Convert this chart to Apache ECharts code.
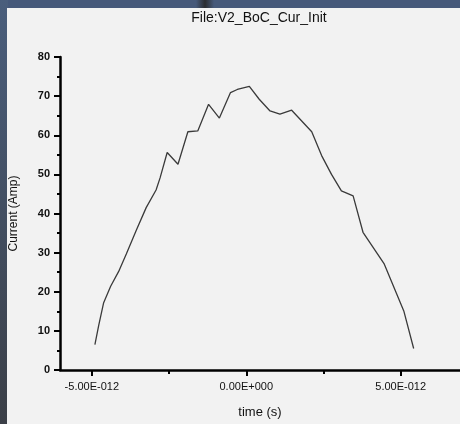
<!DOCTYPE html>
<html>
<head>
<meta charset="utf-8">
<script src="https://cdn.jsdelivr.net/npm/echarts@6/dist/echarts.min.js"></script>
<style>
  html, body { margin: 0; padding: 0; background: #46597a; }
  #chart { width: 460px; height: 424px; }
</style>
</head>
<body>
<div id="chart"></div>
<script>
// Current pulse, time in seconds
var timeSec = [
  -4.90e-12, -4.78e-12, -4.62e-12, -4.39e-12, -4.13e-12, -3.88e-12, -3.56e-12,
  -3.24e-12, -2.92e-12, -2.79e-12, -2.56e-12, -2.21e-12, -1.89e-12, -1.57e-12,
  -1.22e-12, -0.87e-12, -0.51e-12, -0.29e-12, 0.10e-12, 0.42e-12, 0.77e-12,
  1.09e-12, 1.47e-12, 2.12e-12, 2.44e-12, 2.76e-12, 3.08e-12, 3.46e-12,
  3.78e-12, 4.46e-12, 5.10e-12, 5.42e-12
];
var currentAmp = [
  6.5, 11.3, 17.1, 21.4, 25.2, 29.7, 35.7,
  41.5, 46.0, 49.1, 55.6, 52.6, 60.9, 61.1,
  67.9, 64.4, 70.9, 71.7, 72.5, 69.2, 66.2,
  65.4, 66.4, 60.9, 54.8, 50.0, 45.8, 44.5,
  35.2, 27.2, 15.1, 5.5
];
var xMajorTicks = [-5e-12, 0, 5e-12];
var xMinorTicks = [-2.5e-12, 2.5e-12];
var titleText = 'File:V2_BoC_Cur_Init';
var xName = 'time (s)';
var yName = 'Current (Amp)';

function fmtE(v) {
  if (Math.abs(v) < 1e-20) v = 0;
  var parts = v.toExponential(2).split('e');
  var ex = parseInt(parts[1], 10);
  var sign = ex < 0 ? '-' : '+';
  return parts[0] + 'E' + sign + String(Math.abs(ex)).padStart(3, '0');
}

var points = timeSec.map(function (t, i) { return [t, currentAmp[i]]; });
var xMin = -6.03e-12, xMax = 6.92e-12;
var font = 'Arial, "Liberation Sans", sans-serif';

var chart = echarts.init(document.getElementById('chart'));
chart.setOption({
  backgroundColor: '#46597a',
  animation: false,
  graphic: [
    { type: 'rect', z: -10, shape: { x: 0, y: 0, width: 8, height: 424 },
      style: { fill: new echarts.graphic.LinearGradient(0, 0, 0, 1, [
        { offset: 0, color: '#4a5e7c' }, { offset: 1, color: '#3b3f47' }]) } },
    { type: 'rect', z: -10, shape: { x: 196, y: 0, width: 18, height: 8 },
      style: { fill: new echarts.graphic.LinearGradient(0, 0, 1, 0, [
        { offset: 0, color: '#46597a' }, { offset: 0.5, color: '#2a2c30' }, { offset: 1, color: '#46597a' }]) } },
    { type: 'rect', z: -10, shape: { x: 7, y: 8, width: 453, height: 416 },
      style: { fill: '#f2f2f2' } }
  ],
  title: {
    text: titleText,
    left: 254, top: 6, textAlign: 'center',
    textStyle: { fontFamily: font, fontSize: 14, fontWeight: 'normal', color: '#111' }
  },
  grid: { left: 56, right: 0, top: 57, bottom: 49, containLabel: false },
  xAxis: [{
    type: 'value', min: xMin, max: xMax,
    name: xName, nameLocation: 'middle', nameGap: 36,
    nameTextStyle: { fontFamily: font, fontSize: 13, color: '#111' },
    axisLine: { show: true, onZero: false, lineStyle: { color: '#000', width: 2.5 } },
    axisTick: { show: true, customValues: xMajorTicks, length: 6, inside: false,
      lineStyle: { color: '#000', width: 2 } },
    axisLabel: { customValues: xMajorTicks, formatter: fmtE, margin: 11,
      fontFamily: font, fontSize: 11, color: '#111' },
    splitLine: { show: false }
  }, {
    type: 'value', min: xMin, max: xMax, position: 'bottom',
    axisLine: { show: false, onZero: false },
    axisTick: { show: true, customValues: xMinorTicks, length: 4,
      lineStyle: { color: '#000', width: 2 } },
    axisLabel: { show: false },
    splitLine: { show: false }
  }],
  yAxis: {
    type: 'value', min: 0, max: 80, interval: 10,
    name: yName, nameLocation: 'middle', nameGap: 40,
    nameTextStyle: { fontFamily: font, fontSize: 12, color: '#111' },
    axisLine: { show: true, onZero: false, lineStyle: { color: '#000', width: 2.5 } },
    axisTick: { show: true, length: 6, lineStyle: { color: '#000', width: 2 } },
    minorTick: { show: true, splitNumber: 2, length: 3, lineStyle: { color: '#000', width: 2 } },
    axisLabel: { margin: 10, fontFamily: font, fontSize: 11, fontWeight: 'bold', color: '#111' },
    splitLine: { show: false }
  },
  series: [{
    type: 'line', xAxisIndex: 0, data: points,
    showSymbol: false, symbol: 'none',
    lineStyle: { color: '#3a3a3a', width: 1.3 }
  }]
});
</script>
</body>
</html>
